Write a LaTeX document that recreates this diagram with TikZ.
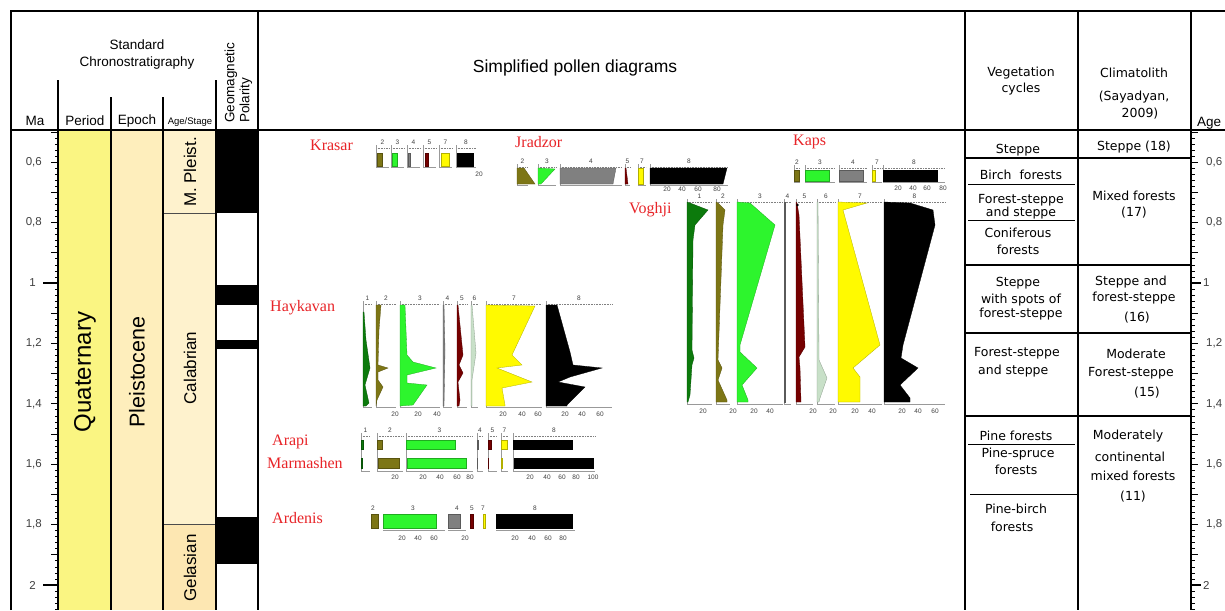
\documentclass[tikz,border=0pt]{standalone}
\usepackage{fontspec}
\setmainfont{Liberation Sans}
\newfontfamily\dvs{DejaVu Sans}
\newfontfamily\tms{Liberation Serif}
\definecolor{perY}{RGB}{250,245,130}
\definecolor{epoY}{RGB}{254,238,188}
\definecolor{stgY}{RGB}{254,242,205}
\definecolor{gelY}{RGB}{253,231,178}
\definecolor{pdg}{RGB}{12,122,12}
\definecolor{pol}{RGB}{125,118,22}
\definecolor{pgr}{RGB}{45,245,45}
\definecolor{pgy}{RGB}{128,128,128}
\definecolor{pdr}{RGB}{118,0,0}
\definecolor{ppl}{RGB}{200,224,200}
\definecolor{pye}{RGB}{255,250,0}
\definecolor{site}{RGB}{232,36,40}
\tikzset{
  frame/.style={line width=2pt},
  thinl/.style={line width=0.7pt},
  hdr/.style={font=\fontsize{13.5}{15}\selectfont, inner sep=0},
  veg/.style={font=\dvs\fontsize{12.5}{14}\selectfont, inner sep=0},
  sitename/.style={font=\tms\fontsize{16}{18}\selectfont, text=site, inner sep=0, anchor=west},
  clab/.style={font=\fontsize{6.5}{7}\selectfont, inner sep=0, text=black!75},
  axd/.style={gray, densely dotted, line width=0.6pt},
  axl/.style={gray!80, line width=0.4pt},
  malab/.style={font=\fontsize{11.5}{12}\selectfont, text=black!75, inner sep=0},
  stage/.style={font=\fontsize{17}{18}\selectfont, inner sep=0, rotate=90}
}
\newcommand\pax[5]{%
  \draw[axd] (#1,#3) -- (#2,#3);
  \draw[axl] (#1,#3-3) -- (#1,#4);
  \draw[axl] (#1,#4) -- (#2,#4);
  \node[clab] at ({(#1+#2)/2},#3-6) {#5};}
\newcommand\pbar[5]{\filldraw[fill=#5, draw=#5!70!black, line width=0.3pt] (#1,#3) rectangle (#2,#4);}
\newcommand\pshape[2]{\filldraw[fill=#1, draw=#1!70!black, line width=0.3pt] #2 -- cycle;}
\newcommand\slab[3]{\node[clab] at (#1,#2) {#3};}
\begin{document}
\begin{tikzpicture}[x=1pt,y=-1pt]
\useasboundingbox (0,0) rectangle (1225,610);
\fill[white] (0,0) rectangle (1225,610);
% ---------- left chronostratigraphy ----------
\fill[perY] (58,130) rectangle (111,610);
\fill[epoY] (111,130) rectangle (163,610);
\fill[stgY] (163,130) rectangle (216,524);
\fill[gelY] (163,524) rectangle (216,610);
\fill[black] (216,130) rectangle (258,213);
\fill[black] (216,285) rectangle (258,305);
\fill[black] (216,340) rectangle (258,349);
\fill[black] (216,517) rectangle (258,564);
\draw[thinl,black!70] (163,213) -- (216,213);
\draw[thinl,black!70] (163,524) -- (216,524);
% frame lines
\draw[frame] (11,610) -- (11,11) -- (1225,11);
\draw[frame] (11,130) -- (1225,130);
\draw[frame] (58,80) -- (58,610);
\draw[frame] (111,97) -- (111,610);
\draw[frame] (163,97) -- (163,610);
\draw[frame] (216,80) -- (216,610);
\draw[frame] (258,11) -- (258,610);
\draw[frame] (965,11) -- (965,610);
\draw[frame] (1078,11) -- (1078,610);
\draw[frame] (1191,11) -- (1191,610);
% left Ma axis ticks
\foreach \i in {25,...,104}{\draw[line width=0.7pt] (58,\i*6.04-19) -- (54.5,\i*6.04-19);}
\foreach \i in {25,30,...,100}{\draw[line width=0.9pt] (58,\i*6.04-19) -- (51,\i*6.04-19);}
\foreach \i in {50,100}{\draw[line width=1.6pt] (58,\i*6.04-19) -- (43,\i*6.04-19);}
\node[malab,anchor=east] (ma06) at (42,162.2) {0,6};
\node[malab,anchor=east] (ma08) at (42,222.6) {0,8};
\node[malab,anchor=east] (ma10) at (36,283) {1};
\node[malab,anchor=east] (ma12) at (42,343.4) {1,2};
\node[malab,anchor=east] (ma14) at (42,403.8) {1,4};
\node[malab,anchor=east] (ma16) at (42,464.2) {1,6};
\node[malab,anchor=east] (ma18) at (42,524.6) {1,8};
\node[malab,anchor=east] (ma20) at (36,585) {2};
% right age axis ticks
\foreach \i in {25,...,104}{\draw[line width=0.7pt] (1191,\i*6.04-19) -- (1195,\i*6.04-19);}
\foreach \i in {25,30,...,100}{\draw[line width=0.9pt] (1191,\i*6.04-19) -- (1198,\i*6.04-19);}
\foreach \i in {50,100}{\draw[line width=1.6pt] (1191,\i*6.04-19) -- (1201,\i*6.04-19);}
\node[malab,anchor=west] (ra06) at (1206,162.2) {0,6};
\node[malab,anchor=west] (ra08) at (1206,222.6) {0,8};
\node[malab,anchor=west] (ra10) at (1203,283) {1};
\node[malab,anchor=west] (ra12) at (1206,343.4) {1,2};
\node[malab,anchor=west] (ra14) at (1206,403.8) {1,4};
\node[malab,anchor=west] (ra16) at (1206,464.2) {1,6};
\node[malab,anchor=west] (ra18) at (1206,524.6) {1,8};
\node[malab,anchor=west] (ra20) at (1203,585) {2};
\node[hdr,anchor=west] (age) at (1197,123) {Age};
% headers
\node[hdr] (std) at (137,45) {Standard};
\node[hdr] (chr) at (137,63) {Chronostratigraphy};
\node[hdr] (ma) at (35,121) {Ma};
\node[hdr] (per) at (85,121) {Period};
\node[hdr] (epo) at (137,121) {Epoch};
\node[font=\fontsize{9.5}{10}\selectfont, inner sep=0] (ags) at (190,122) {Age/Stage};
\node[hdr,rotate=90,anchor=west] (geo1) at (231,123) {Geomagnetic};
\node[hdr,rotate=90,anchor=west] (geo2) at (246,123) {Polarity};
\node[font=\fontsize{24}{26}\selectfont, inner sep=0, rotate=90] (quat) at (85,372) {Quaternary};
\node[font=\fontsize{21.5}{23}\selectfont, inner sep=0, rotate=90] (pleis) at (137,372) {Pleistocene};
\node[stage] (mpl) at (190,172) {M. Pleist.};
\node[stage] (cal) at (190,368) {Calabrian};
\node[stage] (gel) at (190,568) {Gelasian};
\node[font=\fontsize{17.5}{19}\selectfont, inner sep=0] (spd) at (575,68) {Simplified pollen diagrams};
% ---------- right tables ----------
\draw[frame] (965,158) -- (1191,158);
\draw[frame] (965,265) -- (1191,265);
\draw[frame] (965,333) -- (1191,333);
\draw[frame] (965,416) -- (1191,416);
\draw[thinl] (968,184) -- (1075,184);
\draw[thinl] (968,220) -- (1075,220);
\draw[thinl] (968,444) -- (1075,444);
\draw[thinl] (970,494) -- (1078,494);
\node[veg] (vc1) at (1021,73) {Vegetation};
\node[veg] (vc2) at (1021,89) {cycles};
\node[veg] (cl1) at (1134,73) {Climatolith};
\node[veg] (cl2) at (1134,97) {(Sayadyan,};
\node[veg] (cl3) at (1140,114) {2009)};
\node[veg] (v1) at (1018,150) {Steppe};
\node[veg] (c1) at (1134,147) {Steppe (18)};
\node[veg] (v2) at (1021,175) {Birch\ \ forests};
\node[veg] (v3a) at (1021,200) {Forest-steppe};
\node[veg] (v3b) at (1021,213) {and steppe};
\node[veg] (v4a) at (1018,233) {Coniferous};
\node[veg] (v4b) at (1018,250) {forests};
\node[veg] (c2a) at (1134,196) {Mixed forests};
\node[veg] (c2b) at (1134,213) {(17)};
\node[veg] (v5a) at (1018,283) {Steppe};
\node[veg] (v5b) at (1021,300) {with spots of};
\node[veg] (v5c) at (1021,314) {forest-steppe};
\node[veg] (c3a) at (1131,282) {Steppe and};
\node[veg] (c3b) at (1134,298) {forest-steppe};
\node[veg] (c3c) at (1137,318) {(16)};
\node[veg,anchor=west] (v6a) at (974,353) {Forest-steppe};
\node[veg,anchor=west] (v6b) at (978,371) {and steppe};
\node[veg] (c4a) at (1136,354) {Moderate};
\node[veg] (c4b) at (1131,373) {Forest-steppe};
\node[veg] (c4c) at (1147,393) {(15)};
\node[veg] (v7) at (1016,436) {Pine forests};
\node[veg] (v8a) at (1018,454) {Pine-spruce};
\node[veg] (v8b) at (1016,470) {forests};
\node[veg] (v9a) at (1016,509) {Pine-birch};
\node[veg] (v9b) at (1012,527) {forests};
\node[veg] (c5a) at (1128,436) {Moderately};
\node[veg] (c5b) at (1130,457) {continental};
\node[veg] (c5c) at (1133,476) {mixed forests};
\node[veg] (c5d) at (1133,497) {(11)};
% ---------- Krasar ----------
\node[sitename] (krasar) at (310,145) {Krasar};
\pax{376}{389}{148}{167}{2}
\pax{391}{404}{148}{167}{3}
\pax{407}{420}{148}{167}{4}
\pax{423}{436}{148}{167}{5}
\pax{439}{452}{148}{167}{7}
\pax{456}{476}{148}{167}{8}
\pbar{377}{382}{153}{166}{pol}
\pbar{392}{397}{153}{166}{pgr}
\pbar{408}{410}{153}{166}{pgy}
\pbar{425}{428}{153}{166}{pdr}
\pbar{441}{449}{153}{166}{pye}
\pbar{457}{473}{153}{166}{black}
\slab{479}{174}{20}
% ---------- Jradzor ----------
\node[sitename] (jradzor) at (515,142) {Jradzor};
\pax{517}{528}{167}{185}{2}
\pax{538}{556}{167}{185}{3}
\pax{560}{622}{167}{185}{4}
\pax{625}{630}{167}{185}{5}
\pax{638}{646}{167}{185}{7}
\pax{650}{728}{167}{185}{8}
\pshape{pol}{(517,168) -- (524,168) -- (535,184) -- (517,184)}
\pshape{pgr}{(538,168) -- (555,169) -- (541,184) -- (538,184)}
\pshape{pgy}{(560,168) -- (616,168) -- (613,184) -- (560,184)}
\pshape{pdr}{(625,168) -- (626,168) -- (628,184) -- (625,184)}
\pbar{638}{643}{168}{184}{pye}
\pshape{black}{(650,168) -- (727,168) -- (723,184) -- (650,184)}
\slab{667}{189}{20}\slab{682}{189}{40}\slab{698}{189}{60}\slab{717}{189}{80}
% ---------- Kaps ----------
\node[sitename] (kaps) at (793,142) {Kaps};
\pax{794}{800}{168}{182}{2}
\pax{805}{835}{168}{182}{3}
\pax{839}{867}{168}{182}{4}
\pax{872}{882}{168}{182}{7}
\pax{883}{945}{168}{182}{8}
\pbar{794}{799}{170}{181}{pol}
\pbar{805}{829}{170}{181}{pgr}
\pbar{839}{863}{170}{181}{pgy}
\pbar{872}{875}{170}{181}{pye}
\pbar{883}{937}{170}{181}{black}
\slab{898}{188}{20}\slab{913}{188}{40}\slab{927}{188}{60}\slab{943}{188}{80}
% ---------- Voghji ----------
\node[sitename] (voghji) at (629,210) {Voghji};
\pax{687}{712}{202}{404}{1}
\pax{716}{730}{202}{404}{2}
\pax{737}{783}{202}{404}{3}
\pax{784}{791}{202}{404}{4}
\pax{796}{813}{202}{404}{5}
\pax{817}{835}{202}{404}{6}
\pax{838}{882}{202}{404}{7}
\pax{884}{945}{202}{404}{8}
\pshape{pdg}{(687,202) -- (690,203) -- (708,210) -- (695,225) -- (693,240) -- (692,350) -- (694,358) -- (692,365) -- (690,395) -- (688,402) -- (687,402)}
\pshape{pol}{(716,202) -- (718,203) -- (725,210) -- (723,225) -- (718,360) -- (722,368) -- (718,380) -- (727,400) -- (727,402) -- (716,402)}
\pshape{pgr}{(737,202) -- (750,203) -- (775,225) -- (740,345) -- (740,352) -- (757,368) -- (742,385) -- (748,400) -- (748,402) -- (737,402)}
\pshape{pgy}{(784,202) -- (785.5,202) -- (785.5,402) -- (784,402)}
\pshape{pdr}{(796,202) -- (797,203) -- (799,215) -- (805,347) -- (799,357) -- (800,368) -- (801,402) -- (796,402)}
\fill[black] (797.5,205) circle (1.3);
\pshape{ppl}{(817,202) -- (818,202) -- (819,360) -- (827,378) -- (820,398) -- (819,402) -- (817,402)}
\pshape{pye}{(838,202) -- (867,203) -- (843,210) -- (880,345) -- (853,368) -- (860,377) -- (860,402) -- (838,402)}
\pshape{black}{(884,202) -- (910,203) -- (933,210) -- (935,225) -- (903,345) -- (901,358) -- (918,368) -- (900,385) -- (910,398) -- (910,402) -- (884,402)}
\slab{703}{411}{20}\slab{733}{411}{20}\slab{754}{411}{20}\slab{770}{411}{40}
\slab{813}{411}{20}\slab{833}{411}{20}\slab{855}{411}{20}\slab{872}{411}{40}
\slab{902}{411}{20}\slab{918}{411}{40}\slab{935}{411}{60}
% ---------- Haykavan ----------
\node[sitename] (haykavan) at (270,308) {Haykavan};
\pax{363}{372}{304}{407}{1}
\pax{376}{396}{304}{407}{2}
\pax{400}{440}{304}{407}{3}
\pax{443}{452}{304}{407}{4}
\pax{457}{467}{304}{407}{5}
\pax{471}{478}{304}{407}{6}
\pax{486}{542}{304}{407}{7}
\pax{546}{612}{304}{407}{8}
\pshape{pdg}{(363,312) -- (364,312) -- (366,340) -- (370,368) -- (365,385) -- (369,403) -- (366,406) -- (363,406)}
\pshape{pol}{(376,305) -- (381,305) -- (379,330) -- (378,365) -- (388,368) -- (378,372) -- (378,380) -- (383,387) -- (377,400) -- (376,406)}
\pshape{pgr}{(400,305) -- (405,305) -- (407,355) -- (413,362) -- (436,368) -- (407,375) -- (407,383) -- (427,385) -- (413,405) -- (400,406)}
\pshape{pgy}{(443,305) -- (444,305) -- (445,350) -- (444,406) -- (443,406)}
\pshape{pdr}{(457,305) -- (458,305) -- (463,355) -- (459,365) -- (463,373) -- (458,382) -- (460,400) -- (459,406) -- (457,406)}
\pshape{ppl}{(471,305) -- (472,305) -- (476,353) -- (472,380) -- (472,406) -- (471,406)}
\pshape{pye}{(486,305) -- (535,306) -- (512,355) -- (522,365) -- (497,368) -- (532,382) -- (502,388) -- (505,405) -- (505,406) -- (486,406)}
\pshape{black}{(546,305) -- (557,305) -- (570,352) -- (573,365) -- (602,368) -- (570,377) -- (558,382) -- (585,387) -- (567,405) -- (567,406) -- (546,406)}
\slab{395}{414}{20}\slab{418}{414}{20}\slab{437}{414}{40}
\slab{503}{414}{20}\slab{522}{414}{40}\slab{538}{414}{60}
\slab{565}{414}{20}\slab{582}{414}{40}\slab{600}{414}{60}
% ---------- Arapi / Marmashen ----------
\node[sitename] (arapi) at (272,442) {Arapi};
\node[sitename] (marmashen) at (267,463) {Marmashen};
\pax{361}{370}{436}{471}{1}
\pax{377}{403}{436}{471}{2}
\pax{406}{473}{436}{471}{3}
\pax{477}{483}{436}{471}{4}
\pax{488}{497}{436}{471}{5}
\pax{501}{508}{436}{471}{7}
\pax{513}{595}{436}{471}{8}
\pbar{361}{363}{440}{449}{pdg}
\pbar{377}{382}{440}{449}{pol}
\pbar{406}{455}{440}{449}{pgr}
\pbar{477}{478.5}{440}{449}{pgy}
\pbar{488}{491}{440}{449}{pdr}
\pbar{501}{507}{440}{449}{pye}
\pbar{513}{572}{440}{449}{black}
\pbar{361}{362}{458}{468}{pdg}
\pbar{378}{399}{458}{468}{pol}
\pbar{407}{466}{458}{468}{pgr}
\pbar{477}{477.6}{458}{468}{pgy}
\pbar{488}{488.6}{458}{468}{pdr}
\pbar{501}{502.5}{458}{468}{pye}
\pbar{514}{593}{458}{468}{black}
\slab{395}{477}{20}\slab{423}{477}{20}\slab{440}{477}{40}\slab{457}{477}{60}\slab{470}{477}{80}
\slab{530}{477}{20}\slab{547}{477}{40}\slab{562}{477}{60}\slab{576}{477}{80}\slab{593}{477}{100}
% ---------- Ardenis ----------
\node[sitename] (ardenis) at (272,518) {Ardenis};
\slab{373}{508}{2}\slab{413}{508}{3}\slab{457}{508}{4}\slab{472}{508}{5}\slab{483}{508}{7}\slab{535}{508}{8}
\draw[axl] (383,530) -- (445,530);
\draw[axl] (448,530) -- (466,530);
\draw[axl] (496,530) -- (575,530);
\pbar{371}{378}{514}{528}{pol}
\pbar{383}{436}{514}{528}{pgr}
\pbar{448}{460}{514}{528}{pgy}
\pbar{470}{473}{514}{528}{pdr}
\pbar{483}{485}{514}{528}{pye}
\pbar{496}{572}{514}{528}{black}
\slab{402}{538}{20}\slab{418}{538}{40}\slab{434}{538}{60}\slab{465}{538}{20}
\slab{515}{538}{20}\slab{532}{538}{40}\slab{548}{538}{60}\slab{563}{538}{80}
\end{tikzpicture}
\end{document}
